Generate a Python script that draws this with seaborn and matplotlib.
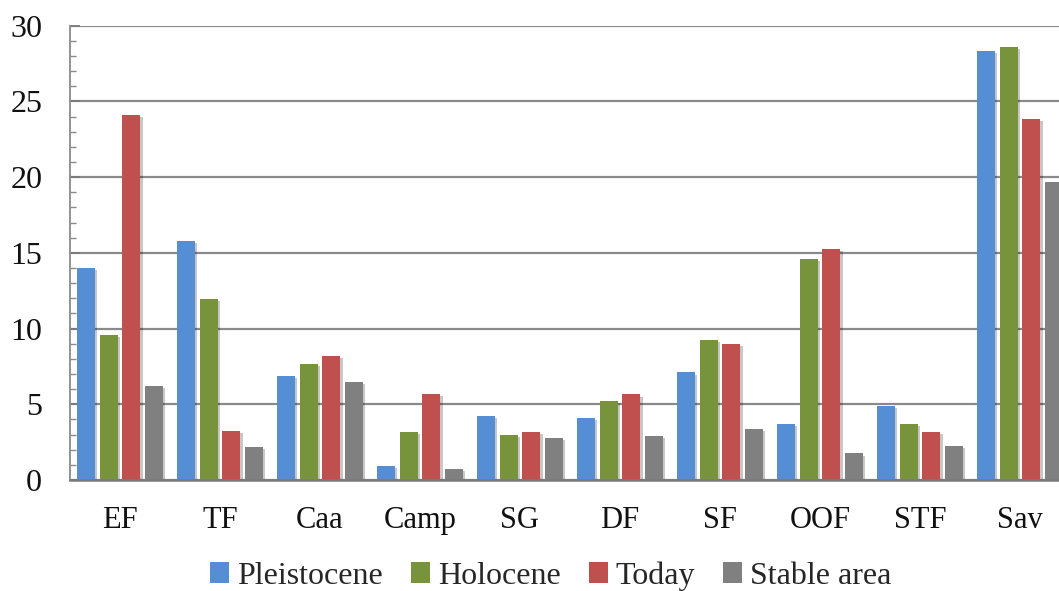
import matplotlib
matplotlib.use("Agg")
import matplotlib.pyplot as plt
import matplotlib.patheffects as pe
from matplotlib.ticker import MultipleLocator
import pandas as pd
import seaborn as sns

# Vegetation classes and their area share per period
categories = ["EF", "TF", "Caa", "Camp", "SG", "DF", "SF", "OOF", "STF", "Sav"]
series = ["Pleistocene", "Holocene", "Today", "Stable area"]
pleistocene = [14.0, 15.8, 6.9, 0.9, 4.2, 4.1, 7.1, 3.7, 4.9, 28.35]
holocene = [9.6, 11.95, 7.65, 3.2, 2.95, 5.2, 9.25, 14.6, 3.7, 28.6]
today = [24.1, 3.25, 8.2, 5.7, 3.2, 5.65, 9.0, 15.25, 3.2, 23.85]
stable = [6.2, 2.2, 6.45, 0.7, 2.75, 2.9, 3.35, 1.75, 2.25, 19.7]
colors = ["#558ED5", "#77933C", "#C0504D", "#808080"]

rows = []
for name, vals in zip(series, [pleistocene, holocene, today, stable]):
    for cat, v in zip(categories, vals):
        rows.append({"class": cat, "share": v, "period": name})
df = pd.DataFrame(rows)

sns.set_theme(style="white")
plt.rcParams["font.family"] = ["Liberation Serif", "DejaVu Serif"]

fig = plt.figure(figsize=(10.59, 5.91), dpi=100)
ax = fig.add_axes([70 / 1059, 111 / 591, 1000 / 1059, 454.3 / 591])

sns.barplot(data=df, x="class", y="share", hue="period", order=categories,
            hue_order=series, palette=colors, saturation=1, width=0.91,
            gap=0.2, ax=ax, linewidth=0)

shadow = [pe.SimplePatchShadow(offset=(1.5, -1.5), shadow_rgbFace="#000000", alpha=0.22),
          pe.Normal()]
for patch in ax.patches:
    patch.set_path_effects(shadow)

ax.set_xlim(-0.5, 9.5)
ax.set_ylim(0, 30)
ax.yaxis.set_major_locator(MultipleLocator(5))
ax.yaxis.set_minor_locator(MultipleLocator(1))
ax.set_axisbelow(True)
ax.grid(axis="y", which="major", color="#8a8a8a", linewidth=1.6)
ax.grid(axis="x", visible=False)

for side in ["top", "right"]:
    ax.spines[side].set_visible(False)
ax.spines["left"].set_color("#8a8a8a")
ax.spines["left"].set_linewidth(1.3)
ax.spines["bottom"].set_color("#7a7a7a")
ax.spines["bottom"].set_linewidth(1.8)

ax.tick_params(axis="y", which="major", direction="in", length=7, width=1.3,
               color="#7a7a7a", pad=20, labelsize=23, labelcolor="#111111", left=True)
ax.tick_params(axis="y", which="minor", direction="in", length=4.5, width=1.0,
               color="#8a8a8a", left=True)
ax.tick_params(axis="x", length=0, pad=19, labelsize=22, labelcolor="#111111")
ax.set_xlabel("")
ax.set_ylabel("")

sns.move_legend(ax, "center", bbox_to_anchor=(551 / 1059, 15 / 591),
                bbox_transform=fig.transFigure, ncol=4, frameon=False, title=None,
                fontsize=23, handlelength=0.6, handleheight=0.6,
                handletextpad=0.25, columnspacing=0.87, borderpad=0, borderaxespad=0)

fig.savefig("out.png", dpi=100)
